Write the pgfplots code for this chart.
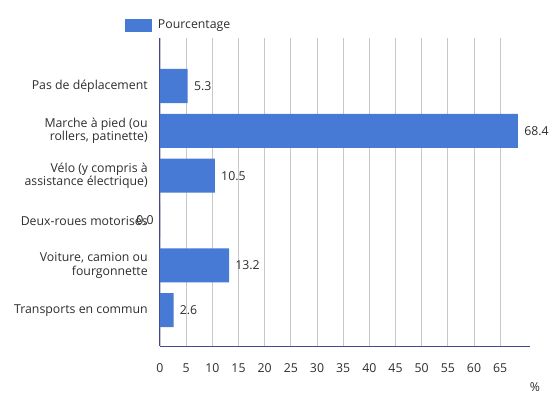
\documentclass[border=0pt]{standalone}
\usepackage{pgfplots}
\pgfplotsset{compat=1.18}
\usepackage{fontspec}
\setmainfont{Open Sans}
\definecolor{barblue}{RGB}{70,122,212}
\definecolor{gridgray}{RGB}{200,200,200}
\definecolor{axisnavy}{RGB}{70,70,150}
\definecolor{txt}{RGB}{45,45,45}
\begin{document}
\fontsize{12.3}{13.5}\selectfont
\begin{tikzpicture}[x=1pt,y=1pt]
\useasboundingbox (0,0) rectangle (552,396);
\begin{axis}[
  at={(160pt,50pt)}, anchor=south west, scale only axis,
  width=370pt, height=308pt,
  xmin=0, xmax=70.7, ymin=-1.07, ymax=5.8, y dir=reverse,
  xbar, bar width=0.76, bar shift=0pt,
  xtick={0,5,...,65},
  ytick={0,1,2,3,4,5},
  yticklabels={{Pas de déplacement},{Marche à pied (ou\\rollers, patinette)},{Vélo (y compris à\\assistance électrique)},{Deux-roues motorisés},{Voiture, camion ou\\fourgonnette},{Transports en commun}},
  yticklabel style={align=right, text=txt, xshift=-8pt},
  xticklabel style={text=txt, yshift=-13pt},
  /pgf/number format/assume math mode=true,
  major tick length=0pt,
  xmajorgrids, major grid style={gridgray, line width=0.8pt},
  axis x line*=bottom, axis y line*=left,
  x axis line style={-, axisnavy, line width=1pt},
  y axis line style={-, axisnavy, line width=1pt},
  xlabel={\%}, xlabel style={at={(rel axis cs:1,0)}, anchor=center, xshift=5pt, yshift=-41pt, text=txt},
  nodes near coords,
  nodes near coords style={text=txt, xshift=2pt, /pgf/number format/fixed, /pgf/number format/fixed zerofill, /pgf/number format/precision=1},
  legend style={draw=none, fill=none, inner sep=0pt, outer sep=0pt, at={(rel axis cs:0,1)}, anchor=west, xshift=-35pt, yshift=13pt, text=txt},
  legend image code/.code={\fill[barblue] (0pt,-6.5pt) rectangle (27pt,6.5pt); \path (31pt,0pt);},
]
\addplot[fill=barblue, draw=none] coordinates {(5.3,0) (68.4,1) (10.5,2) (13.2,4) (2.6,5)};
\addlegendentry{Pourcentage}
\addplot[fill=barblue, draw=none, forget plot, every node near coord/.append style={anchor=east, xshift=-4pt}] coordinates {(0,3)};
\end{axis}
\end{tikzpicture}
\end{document}
